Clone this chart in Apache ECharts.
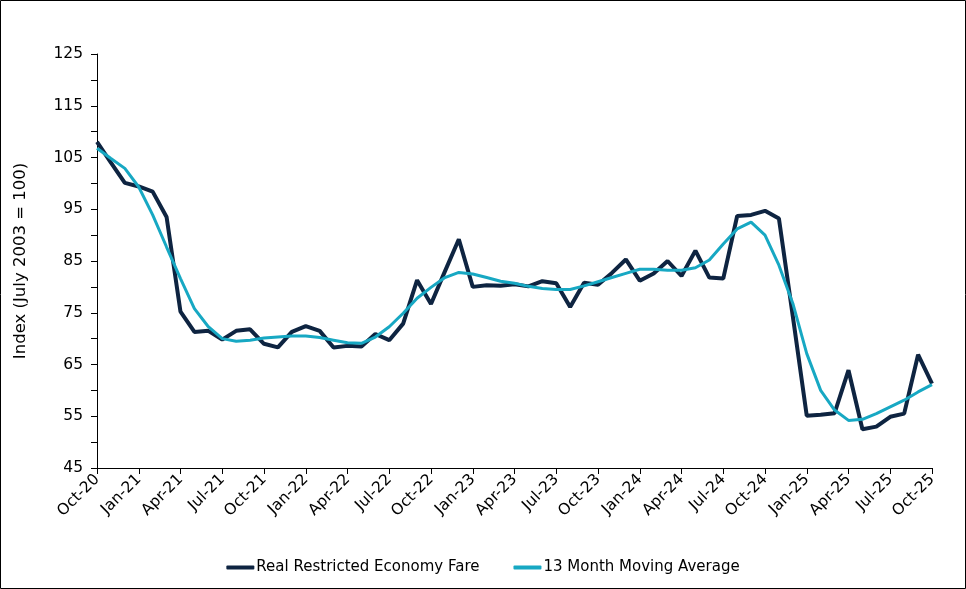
<!DOCTYPE html>
<html>
<head>
<meta charset="utf-8">
<script src="https://cdn.jsdelivr.net/npm/echarts@6/dist/echarts.min.js"></script>
<style>
html,body{margin:0;padding:0;background:#fff;}
#c{width:966px;height:589px;}
</style>
</head>
<body>
<div id="c"></div>
<script>
const months = [
 'Oct-20','Nov-20','Dec-20','Jan-21','Feb-21','Mar-21','Apr-21','May-21','Jun-21','Jul-21','Aug-21','Sep-21',
 'Oct-21','Nov-21','Dec-21','Jan-22','Feb-22','Mar-22','Apr-22','May-22','Jun-22','Jul-22','Aug-22','Sep-22',
 'Oct-22','Nov-22','Dec-22','Jan-23','Feb-23','Mar-23','Apr-23','May-23','Jun-23','Jul-23','Aug-23','Sep-23',
 'Oct-23','Nov-23','Dec-23','Jan-24','Feb-24','Mar-24','Apr-24','May-24','Jun-24','Jul-24','Aug-24','Sep-24',
 'Oct-24','Nov-24','Dec-24','Jan-25','Feb-25','Mar-25','Apr-25','May-25','Jun-25','Jul-25','Aug-25','Sep-25',
 'Oct-25'
];
const fare = [
 108.0,104.0,100.1,99.4,98.4,93.5,75.2,71.3,71.5,69.8,71.5,71.8,
 69.0,68.3,71.3,72.4,71.5,68.3,68.6,68.5,70.9,69.7,72.9,81.3,
 76.7,83.0,89.2,80.0,80.3,80.2,80.5,80.1,81.1,80.7,76.1,80.8,
 80.4,82.7,85.3,81.2,82.6,85.0,82.1,87.0,81.8,81.6,93.7,93.9,
 94.7,93.2,74.3,55.1,55.3,55.6,63.9,52.5,53.0,54.9,55.5,66.9,
 61.3
];
const movingAvg = [
 106.8,104.8,102.9,99.3,93.9,87.7,81.6,75.8,72.3,70.0,69.5,69.7,
 70.1,70.3,70.5,70.5,70.2,69.7,69.2,69.1,70.3,72.3,74.9,77.8,
 79.9,81.8,82.8,82.5,81.8,81.1,80.7,80.1,79.7,79.5,79.5,80.2,
 81.0,81.8,82.6,83.4,83.4,83.2,83.2,83.7,85.2,88.3,91.2,92.5,
 90.0,84.2,76.8,67.1,60.0,56.2,54.2,54.4,55.5,56.8,58.1,59.7,
 61.1
];
const yMin = 45, yMax = 125, yStep = 10;

const chart = echarts.init(document.getElementById('c'));
const font = 'DejaVu Sans, Verdana, sans-serif';
chart.setOption({
  animation:false,
  backgroundColor:'#fff',
  graphic:[{type:'rect',shape:{x:0.5,y:0.5,width:965,height:588},style:{fill:'none',stroke:'#000',lineWidth:1},silent:true}],
  grid:{left:97,right:34,top:54,bottom:121,containLabel:false},
  legend:{
    bottom:9,left:'center',itemWidth:28,itemHeight:4,itemGap:34,
    textStyle:{fontFamily:font,fontSize:15,color:'#000',padding:[0,0,0,-3]},
    data:[{name:'Real Restricted Economy Fare',icon:'roundRect'},{name:'13 Month Moving Average',icon:'roundRect'}]
  },
  xAxis:{
    type:'category',data:months,boundaryGap:false,
    axisLine:{lineStyle:{color:'#000',width:1}},
    axisTick:{show:true,interval:2,length:6,lineStyle:{color:'#000'}},
    axisLabel:{interval:2,rotate:45,fontFamily:font,fontSize:15.5,color:'#000',margin:9},
    splitLine:{show:false}
  },
  yAxis:{
    type:'value',min:yMin,max:yMax,interval:yStep,
    name:'Index (July 2003 = 100)',nameLocation:'middle',nameGap:68,
    nameTextStyle:{fontFamily:font,fontSize:16.5,color:'#000'},
    axisLine:{show:true,lineStyle:{color:'#000',width:1}},
    axisTick:{show:true,length:6,lineStyle:{color:'#000'}},
    minorTick:{show:true,splitNumber:2,length:6,lineStyle:{color:'#000'}},
    axisLabel:{fontFamily:font,fontSize:15.5,color:'#000',margin:14},
    splitLine:{show:false}
  },
  series:[
    {name:'Real Restricted Economy Fare',type:'line',data:fare,showSymbol:false,symbol:'none',
     lineStyle:{color:'#0e2441',width:4},itemStyle:{color:'#0e2441'},z:2},
    {name:'13 Month Moving Average',type:'line',data:movingAvg,showSymbol:false,symbol:'none',
     lineStyle:{color:'#17a8c3',width:3},itemStyle:{color:'#17a8c3'},z:3}
  ]
});
</script>
</body>
</html>
